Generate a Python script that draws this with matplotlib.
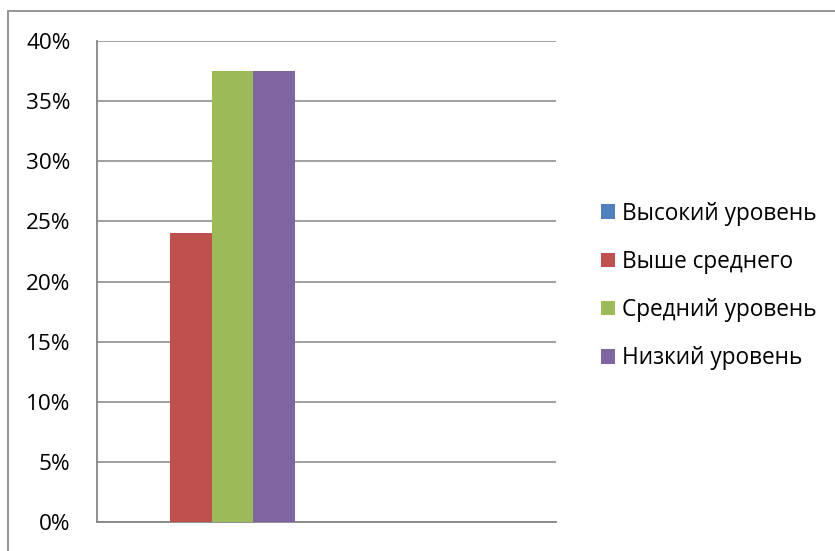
import numpy as np
import matplotlib.pyplot as plt
from matplotlib.patches import Rectangle
from matplotlib.ticker import FuncFormatter

series = ["Высокий уровень", "Выше среднего", "Средний уровень", "Низкий уровень"]
values = [0.0, 24.0, 37.5, 37.5]
colors = ["#4F81BD", "#C0504D", "#9BBB59", "#8064A2"]
yticks = [0, 5, 10, 15, 20, 25, 30, 35, 40]

plt.rcParams['font.family'] = ['Open Sans', 'DejaVu Sans']

W, H = 835, 551
fig = plt.figure(figsize=(W / 100, H / 100), dpi=100)
ax = fig.add_axes([97 / W, 1 - 522 / H, (556 - 97) / W, (522 - 41) / H])

# outer chart border (right/bottom edges fall outside the image)
fig.patches.append(Rectangle((8 / W, -0.1), 1.1, 1 - 11 / H + 0.1,
                             transform=fig.transFigure, fill=False,
                             edgecolor="#8c8c8c", linewidth=1.3))

# two category slots, only the first holds data; gap width 150%
n = len(series)
w = 1 / (n + 1.5)
for i, (name, v, c) in enumerate(zip(series, values, colors)):
    x = -0.5 + 0.75 * w + (i + 0.5) * w
    ax.bar(x, v, width=w, color=c, label=name, zorder=3)

ax.set_xlim(-0.5, 1.5)
ax.set_ylim(0, 40)
ax.set_yticks(yticks)
ax.yaxis.set_major_formatter(FuncFormatter(lambda v, p: f"{v:.0f}%"))
ax.set_xticks([])
ax.grid(axis="y", color="#868686", linewidth=1.1, zorder=0)
for s in ["top", "right"]:
    ax.spines[s].set_visible(False)
for s in ["left", "bottom"]:
    ax.spines[s].set_color("#868686")
    ax.spines[s].set_linewidth(1.3)
ax.tick_params(axis="y", length=0, pad=19, labelsize=16.2)

ax.legend(loc="center left", bbox_to_anchor=(581 / W, 1 - 286 / H),
          bbox_transform=fig.transFigure, frameon=False, fontsize=16.3,
          handlelength=0.6, handleheight=0.6, handletextpad=0.3,
          labelspacing=1.07)

fig.savefig("out.png", dpi=100)
